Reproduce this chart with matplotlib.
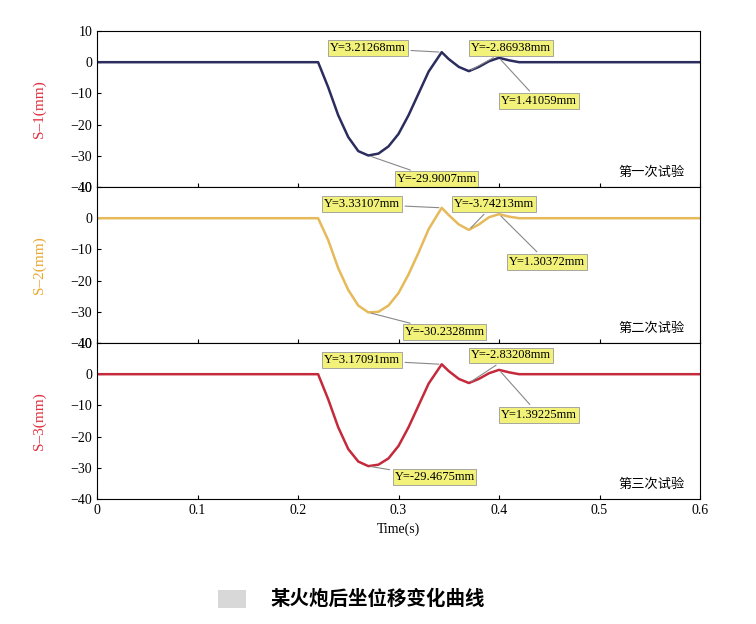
import matplotlib
matplotlib.use("Agg")
import matplotlib.pyplot as plt

t = [0, 0.1, 0.2, 0.22, 0.23, 0.24, 0.25, 0.26, 0.27, 0.28, 0.29, 0.30, 0.31, 0.32, 0.33, 0.343,
     0.35, 0.36, 0.37, 0.38, 0.39, 0.40, 0.41, 0.42, 0.45, 0.5, 0.6]
s1 = [0, 0, 0, 0, -8, -17, -24, -28.5, -29.9, -29.3, -27, -23, -17, -10, -3, 3.21,
      1, -1.5, -2.87, -1.5, 0.3, 1.41, 0.6, 0, 0, 0, 0]
s2 = [0, 0, 0, 0, -7, -16, -23, -28, -30.2, -30, -28, -24, -18, -11, -3.5, 3.33,
      1, -2, -3.74, -2, 0.3, 1.30, 0.5, 0, 0, 0, 0]
s3 = [0, 0, 0, 0, -8, -17, -24, -28, -29.47, -29, -27, -23, -17, -10, -3, 3.17,
      1, -1.5, -2.83, -1.5, 0.3, 1.39, 0.6, 0, 0, 0, 0]
series = [s1, s2, s3]
ylabels = ["S–1(mm)", "S–2(mm)", "S–3(mm)"]
titles = ["第一次试验", "第二次试验", "第三次试验"]
colors = ["#2b2d5e", "#e6b95a", "#c42a3c"]
labcolors = ["#e03040", "#e8a830", "#e03040"]
# annotations: (text, point x, point y, box x, box y)
annots = [
    [("Y=3.21268mm", 0.343, 3.21, 0.232, 4.5), ("Y=-2.86938mm", 0.37, -2.87, 0.372, 4.5),
     ("Y=1.41059mm", 0.40, 1.41, 0.402, -12.5), ("Y=-29.9007mm", 0.27, -29.9, 0.298, -37.5)],
    [("Y=3.33107mm", 0.343, 3.33, 0.226, 4.5), ("Y=-3.74213mm", 0.37, -3.74, 0.355, 4.5),
     ("Y=1.30372mm", 0.40, 1.30, 0.41, -14), ("Y=-30.2328mm", 0.27, -30.2, 0.306, -36.5)],
    [("Y=3.17091mm", 0.343, 3.17, 0.226, 4.5), ("Y=-2.83208mm", 0.37, -2.83, 0.372, 6),
     ("Y=1.39225mm", 0.40, 1.39, 0.402, -13), ("Y=-29.4675mm", 0.27, -29.47, 0.296, -33)],
]

fig = plt.figure(figsize=(7.56, 6.24), dpi=100)
axes = []
for i in range(3):
    top = 1 - 31/624 - i*156/624
    ax = fig.add_axes([97/756, top - 156/624, 603/756, 156/624])
    axes.append(ax)
    ax.plot(t, series[i], color=colors[i], lw=1.8)
    ax.set_xlim(0, 0.6)
    ax.set_ylim(-40, 10)
    ax.set_yticks([-40, -30, -20, -10, 0, 10])
    ax.tick_params(labelsize=10, direction='in', length=3)
    for lab in ax.get_yticklabels():
        lab.set_fontfamily("Liberation Serif")
    ax.set_ylabel(ylabels[i], color=labcolors[i], fontfamily="Liberation Serif", fontsize=11)
    ax.yaxis.set_label_coords(-0.085, 0.5)
    ax.text(0.975, 0.09, titles[i], transform=ax.transAxes, ha='right', va='center',
            fontfamily="Noto Sans CJK SC", fontsize=9.5)
    for txt, px, py, bx, by in annots[i]:
        ax.annotate(txt, xy=(px, py), xytext=(bx, by), fontsize=9, fontfamily="Liberation Serif",
                    va='center', ha='left',
                    bbox=dict(boxstyle='square,pad=0.15', fc='#f2f27a', ec='#999999', lw=0.6),
                    arrowprops=dict(arrowstyle='-', color='#888888', lw=0.8))
    if i < 2:
        ax.set_xticklabels([])
axes[2].set_xticks([0, 0.1, 0.2, 0.3, 0.4, 0.5, 0.6])
axes[2].set_xticklabels(["0", "0.1", "0.2", "0.3", "0.4", "0.5", "0.6"], fontfamily="Liberation Serif")
axes[2].set_xlabel("Time(s)", fontfamily="Liberation Serif", fontsize=10)
fig.text(0.5, 0.04, "某火炮后坐位移变化曲线", ha='center', va='center',
         fontfamily="Noto Sans CJK SC", fontsize=14, fontweight='bold')
fig.patches.append(plt.Rectangle((218/756, 0.025), 28/756, 0.03, transform=fig.transFigure,
                                 fc='#d8d8d8', ec='none'))
fig.savefig("out.png", dpi=100)
